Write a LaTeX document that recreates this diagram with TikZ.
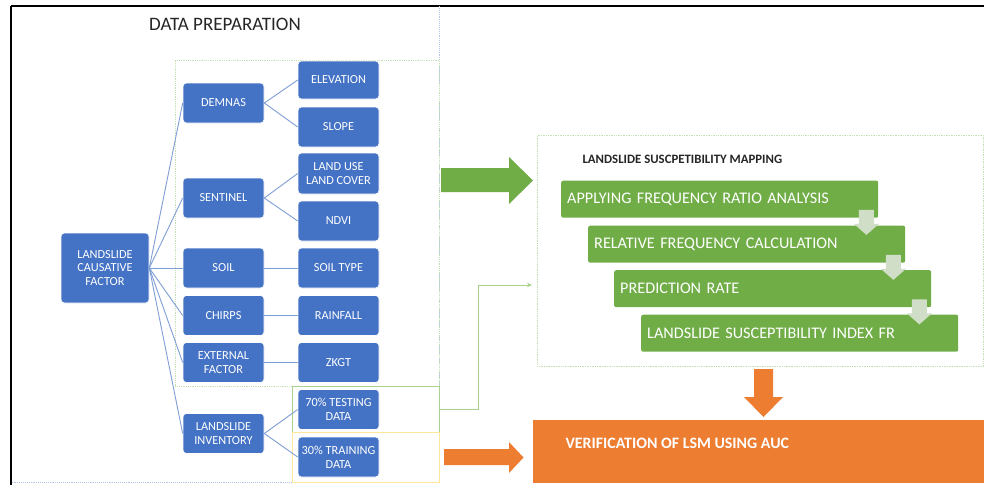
\documentclass[tikz,border=0pt]{standalone}
\usepackage{fontspec}
\setmainfont{Carlito}
\usetikzlibrary{arrows.meta,calc}
\definecolor{nodeblue}{HTML}{4472C4}
\definecolor{connblue}{HTML}{7F9ED6}
\definecolor{bargreen}{HTML}{70AD47}
\definecolor{orng}{HTML}{ED7D31}
\definecolor{frgreen}{HTML}{C5E0B4}
\definecolor{frgreen2}{HTML}{A9D18E}
\definecolor{fryellow}{HTML}{FFE699}
\definecolor{frblue}{HTML}{B4C7E7}
\definecolor{softarrow}{HTML}{D0DEC8}
\definecolor{titlegray}{HTML}{262626}
\tikzset{
  bluebox/.style={rectangle, rounded corners=3.5pt, fill=nodeblue, draw=white, line width=0.6pt,
    text=white, align=center, minimum width=81pt, minimum height=40pt, inner sep=1pt,
    font=\fontsize{12.3}{13.6}\selectfont},
  conn/.style={draw=connblue, line width=0.9pt},
  greenbar/.style={rectangle, rounded corners=2pt, fill=bargreen, text=white, anchor=north west,
    text width=305pt, inner xsep=6pt, align=left, minimum height=37pt,
    font=\fontsize{16.2}{18}\selectfont},
  softarr/.style={fill=softarrow},
  frame/.style={rectangle, inner sep=0pt, anchor=north west}
}
\begin{document}
\begin{tikzpicture}[x=1pt,y=-1pt]
\useasboundingbox (0,0) rectangle (984,485);
\fill[white] (0,0) rectangle (984,485);

% outer black lines
\draw[black, line width=1.6pt] (11,6) -- (984,6);
\draw[black, line width=1.6pt] (11,6) -- (11,485);

% left panel frame
\draw[frblue, densely dotted, line width=0.9pt] (439,6) -- (439,482) -- (11,482);
\node[font=\fontsize{19}{21}\selectfont, text=titlegray] (dptitle) at (225,24) {DATA PREPARATION};

% frames
\node[frame, draw=frgreen, densely dotted, line width=0.8pt, minimum width=264pt, minimum height=326pt] (gframe) at (175,60) {};
\node[frame, draw=frgreen2, line width=0.9pt, minimum width=147pt, minimum height=46pt] (testframe) at (292,386) {};
\node[frame, draw=fryellow, line width=0.8pt, minimum width=147pt, minimum height=50pt] (trainframe) at (292,432) {};
\node[frame, draw=frgreen, densely dotted, line width=0.7pt, minimum width=446pt, minimum height=231pt] (lsmframe) at (537,135) {};

% blue nodes
\node[bluebox, minimum width=88pt, minimum height=70pt] (lcf) at (105,268) {LANDSLIDE\\CAUSATIVE\\FACTOR};
\node[bluebox] (demnas) at (223.5,103) {DEMNAS};
\node[bluebox] (sentinel) at (223.5,198) {SENTINEL};
\node[bluebox] (soil) at (223.5,268) {SOIL};
\node[bluebox] (chirps) at (223.5,315.5) {CHIRPS};
\node[bluebox] (ext) at (223.5,362.5) {EXTERNAL\\FACTOR};
\node[bluebox] (inv) at (223.5,433.5) {LANDSLIDE\\INVENTORY};

\node[bluebox, minimum height=38pt] (elev) at (338.5,80) {ELEVATION};
\node[bluebox] (slope) at (338.5,127) {SLOPE};
\node[bluebox, minimum height=41pt] (lulc) at (338.5,173.5) {LAND USE\\LAND COVER};
\node[bluebox] (ndvi) at (338.5,221) {NDVI};
\node[bluebox] (soiltype) at (338.5,268) {SOIL TYPE};
\node[bluebox] (rain) at (338.5,315.5) {RAINFALL};
\node[bluebox] (zkgt) at (338.5,362.5) {ZKGT};
\node[bluebox] (test) at (338.5,409.5) {70\% TESTING\\DATA};
\node[bluebox] (train) at (338.5,457) {30\% TRAINING\\DATA};

% connectors
\foreach \c in {demnas,sentinel,soil,chirps,ext,inv}
  \draw[conn] (lcf.east) -- (\c.west);
\draw[conn] (demnas.east) -- (elev.west);
\draw[conn] (demnas.east) -- (slope.west);
\draw[conn] (sentinel.east) -- (lulc.west);
\draw[conn] (sentinel.east) -- (ndvi.west);
\draw[conn] (soil.east) -- (soiltype.west);
\draw[conn] (chirps.east) -- (rain.west);
\draw[conn] (ext.east) -- (zkgt.west);
\draw[conn] (inv.east) -- (test.west);
\draw[conn] (inv.east) -- (train.west);

% LSM section
\node[anchor=west, font=\bfseries\fontsize{12.8}{14}\selectfont, text=titlegray] (lsmtitle) at (579,159) {LANDSLIDE SUSCPETIBILITY MAPPING};
\node[greenbar] (b1) at (561,180.5) {APPLYING FREQUENCY RATIO ANALYSIS};
\node[greenbar] (b2) at (588,225.5) {RELATIVE FREQUENCY CALCULATION};
\node[greenbar] (b3) at (614,270) {PREDICTION RATE};
\node[greenbar] (b4) at (641,314.5) {LANDSLIDE SUSCEPTIBILITY INDEX FR};

% soft down arrows between bars
\foreach \a/\b in {b1/b2,b2/b3,b3/b4}{
  \path ($(\a.south east)+(-12,0)$) coordinate (t);
  \fill[softarr] ($(t)+(-7.5,-8)$) -- ($(t)+(7.5,-8)$) -- ($(t)+(7.5,6)$) -- ($(t)+(12.5,6)$)
     -- ($(t)+(0,17)$) -- ($(t)+(-12.5,6)$) -- ($(t)+(-7.5,6)$) -- cycle;
}

% big green arrow
\fill[bargreen] (441,168) -- (509,168) -- (509,157) -- (533,180.5) -- (509,204) -- (509,192) -- (441,192) -- cycle;

% thin green connector from testing data to LSM
\coordinate (bend) at (478,285);
\coordinate (lsmin) at (532,285);
\draw[frgreen2, line width=1pt, -{Stealth[length=5pt,width=4.5pt]}] (testframe.east) -| (bend) -- (lsmin);

% orange down arrow
\fill[orng] (754,369) -- (773,369) -- (773,397) -- (783,397) -- (763.5,417) -- (744,397) -- (754,397) -- cycle;

% orange verification box
\node[frame, fill=orng, minimum width=452pt, minimum height=63pt] (verif) at (533,420) {};
\node[anchor=west, text=white, font=\bfseries\fontsize{15.9}{17}\selectfont] (veriftext) at (562,443) {VERIFICATION OF LSM USING AUC};

% orange right arrow
\fill[orng] (444,449) -- (509,449) -- (509,442) -- (523.5,457.5) -- (509,473) -- (509,465) -- (444,465) -- cycle;
\end{tikzpicture}
\end{document}
